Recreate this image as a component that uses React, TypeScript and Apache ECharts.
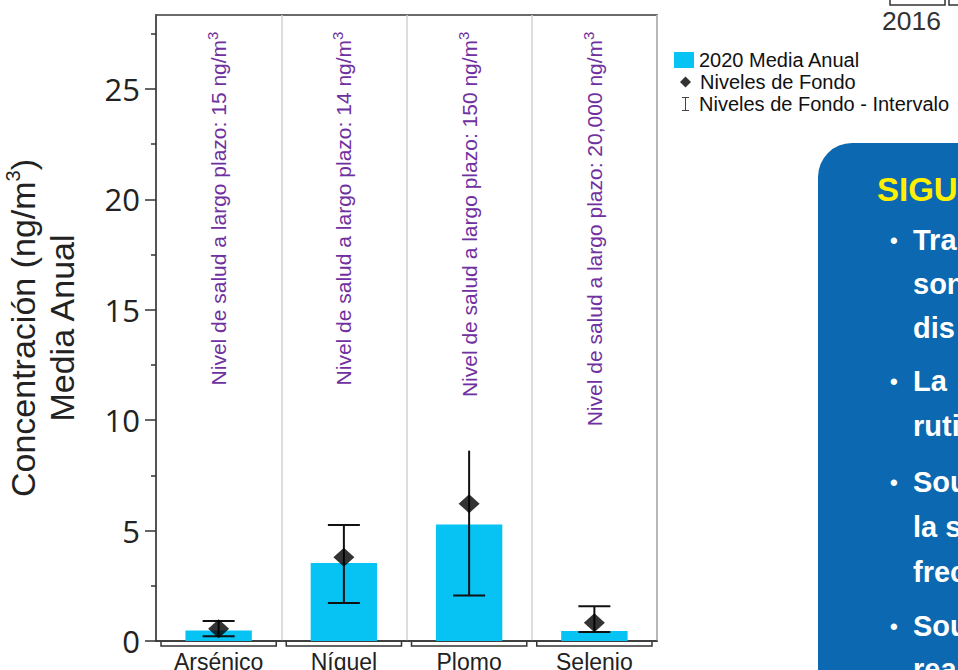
import React, { useEffect, useRef } from 'react';
import * as echarts from 'echarts';

const categories = ['Arsénico', 'Níquel', 'Plomo', 'Selenio'];
const media2020 = [0.48, 3.53, 5.28, 0.45];
const fondo = [0.56, 3.79, 6.22, 0.83];
const fondoLow = [0.21, 1.72, 2.06, 0.41];
const fondoHigh = [0.91, 5.25, 8.62, 1.57];
const fondoHighCap = [1, 1, 0, 1];
const healthLevels = ['15', '14', '150', '20,000'];
const yTicks = [0, 5, 10, 15, 20, 25];
const yMinorTicks = [2.5, 7.5, 12.5, 17.5, 22.5, 27.5];
const yMax = 28.35;
const healthLabelAnchor = 27.6;
const legendNames = ['2020 Media Anual', 'Niveles de Fondo', 'Niveles de Fondo - Intervalo'];
const panelTitle = 'SIGU';
const panelLines = [
  { bullet: true, text: 'Tra' },
  { bullet: false, text: 'son' },
  { bullet: false, text: 'dis' },
  { bullet: true, text: 'La' },
  { bullet: false, text: 'ruti' },
  { bullet: true, text: 'Sou' },
  { bullet: false, text: 'la s' },
  { bullet: false, text: 'frec' },
  { bullet: true, text: 'Sou' },
  { bullet: false, text: 'rea' },
];
const panelLineY = [240, 284, 328, 381, 426, 482, 527, 572, 626, 669];
const topYear = '2016';

const SANS = 'Liberation Sans, Arial, Helvetica, sans-serif';

export default function App() {
  const ref = useRef<HTMLDivElement>(null);
  useEffect(() => {
    if (!ref.current) return;
    const chart = echarts.init(ref.current, undefined, { renderer: 'svg' });

    const panelGraphics: any[] = [
      {
        type: 'rect',
        shape: { x: 818, y: 143, width: 220, height: 600, r: 34 },
        style: { fill: '#0B68B1' },
        z: 1,
      },
      {
        type: 'text',
        x: 877,
        y: 189,
        style: { text: panelTitle, fill: '#FFEF00', font: `bold 33px ${SANS}`, verticalAlign: 'middle', align: 'left' },
        z: 2,
      },
    ];
    panelLines.forEach((l, i) => {
      if (l.bullet) {
        panelGraphics.push({
          type: 'text',
          x: 890,
          y: panelLineY[i],
          style: { text: '•', fill: '#fff', font: `bold 22px ${SANS}`, verticalAlign: 'middle' },
          z: 2,
        });
      }
      panelGraphics.push({
        type: 'text',
        x: 913,
        y: panelLineY[i],
        style: { text: l.text, fill: '#fff', font: `bold 29px ${SANS}`, verticalAlign: 'middle' },
        z: 2,
      });
    });

    const legendText = { fontSize: 20, fontFamily: SANS, color: '#111', lineHeight: 20 };

    const option: any = {
      animation: false,
      backgroundColor: '#fff',
      grid: {
        left: 156,
        top: 15,
        width: 501,
        height: 626,
        show: true,
        borderColor: '#3a3a3a',
        borderWidth: 1.5,
        backgroundColor: 'transparent',
        containLabel: false,
        outerBoundsMode: 'none',
      },
      legend: [
        {
          data: [{ name: legendNames[0], icon: 'rect', itemStyle: { color: '#06C3F4' } }],
          left: 674,
          top: 50,
          padding: 0,
          itemWidth: 20,
          itemHeight: 16,
          textStyle: legendText,
          selectedMode: false,
        },
        {
          data: [{ name: legendNames[1], icon: 'diamond', itemStyle: { color: '#000' } }],
          left: 680,
          top: 72,
          padding: 0,
          itemWidth: 11,
          itemHeight: 11,
          textStyle: { ...legendText, padding: [0, 0, 0, 4] },
          selectedMode: false,
        },
        {
          data: [
            {
              name: legendNames[2],
              icon: 'path://M0,0H7V1H4V13H7V14H0V13H3V1H0Z',
              itemStyle: { color: '#444' },
            },
          ],
          left: 682,
          top: 94,
          padding: 0,
          itemWidth: 7,
          itemHeight: 14,
          textStyle: { ...legendText, padding: [0, 0, 0, 5] },
          selectedMode: false,
        },
      ],
      xAxis: {
        type: 'category',
        data: categories,
        axisLine: { show: true, lineStyle: { color: '#333', width: 1.5 } },
        axisTick: { show: false },
        axisLabel: { color: '#222', fontSize: 23, fontFamily: SANS, margin: 9 },
        splitLine: { show: true, lineStyle: { color: '#d2d2d2', width: 1.5 } },
      },
      yAxis: [
        {
          type: 'value',
          min: 0,
          max: yMax,
          position: 'left',
          name: 'Concentración (ng/m{sup|3})\nMedia Anual',
          nameLocation: 'middle',
          nameRotate: 90,
          nameGap: 75,
          nameTextStyle: {
            fontSize: 34,
            fontFamily: SANS,
            color: '#222',
            lineHeight: 39,
            rich: {
              sup: { fontSize: 20, lineHeight: 20, verticalAlign: 'top', fontFamily: SANS, color: '#222' },
            },
          },
          axisLine: { show: true, lineStyle: { color: '#333', width: 1.5 } },
          axisTick: { show: true, length: 11, customValues: yTicks, lineStyle: { color: '#333', width: 1.5 } },
          axisLabel: { show: true, customValues: yTicks, fontSize: 31, fontFamily: 'Open Sans', color: '#222', margin: 16 },
          splitLine: { show: false },
        },
        {
          type: 'value',
          min: 0,
          max: yMax,
          position: 'left',
          axisLine: { show: false },
          axisTick: { show: true, length: 5, customValues: yMinorTicks, lineStyle: { color: '#333', width: 1.5 } },
          axisLabel: { show: false },
          splitLine: { show: false },
        },
      ],
      graphic: [
        ...panelGraphics,
        {
          type: 'polyline',
          shape: { points: [[890, 0], [890, 5], [945, 5], [945, 0]] },
          style: { stroke: '#333', lineWidth: 1.5, fill: 'none' },
        },
        {
          type: 'polyline',
          shape: { points: [[949, 0], [949, 5], [962, 5]] },
          style: { stroke: '#333', lineWidth: 1.5, fill: 'none' },
        },
        {
          type: 'text',
          x: 882,
          y: 21,
          style: { text: topYear, fill: '#333', font: `26.5px ${SANS}`, verticalAlign: 'middle' },
        },
      ],
      series: [
        {
          name: legendNames[0],
          type: 'bar',
          data: media2020,
          barWidth: '53%',
          itemStyle: { color: '#06C3F4' },
          z: 2,
        },
        {
          name: legendNames[2],
          type: 'custom',
          z: 3,
          clip: false,
          itemStyle: { color: '#444' },
          data: categories.map((c, i) => [i, fondoLow[i], fondoHigh[i], fondoHighCap[i]]),
          encode: { x: 0, y: [1, 2] },
          renderItem: (params: any, api: any) => {
            const i = api.value(0);
            const lo = api.coord([i, api.value(1)]);
            const hi = api.coord([i, api.value(2)]);
            const half = 16;
            const st = { stroke: '#111', lineWidth: 2 };
            const children: any[] = [
              { type: 'line', shape: { x1: lo[0], y1: lo[1], x2: hi[0], y2: hi[1] }, style: st },
              { type: 'line', shape: { x1: lo[0] - half, y1: lo[1], x2: lo[0] + half, y2: lo[1] }, style: st },
            ];
            if (api.value(3)) {
              children.push({ type: 'line', shape: { x1: hi[0] - half, y1: hi[1], x2: hi[0] + half, y2: hi[1] }, style: st });
            }
            return { type: 'group', children };
          },
        },
        {
          name: legendNames[1],
          type: 'scatter',
          data: fondo,
          symbol: 'diamond',
          symbolSize: [21, 19],
          itemStyle: { color: '#000' },
          z: 4,
        },
        {
          name: 'brackets',
          type: 'custom',
          silent: true,
          clip: false,
          data: categories.map((c, i) => [i, 0]),
          renderItem: (params: any, api: any) => {
            const i = api.value(0);
            const p = api.coord([i, 0]);
            const w = api.size([1, 0])[0];
            const x0 = p[0] - w / 2 + 5;
            const x1 = p[0] + w / 2 - 5;
            return {
              type: 'polyline',
              shape: { points: [[x0, p[1] + 1], [x0, p[1] + 5], [x1, p[1] + 5], [x1, p[1] + 1]] },
              style: { stroke: '#333', lineWidth: 1.5, fill: 'none' },
            };
          },
        },
        {
          name: 'health',
          type: 'custom',
          silent: true,
          clip: false,
          z: 5,
          data: categories.map((c, i) => [i, healthLabelAnchor]),
          renderItem: (params: any, api: any) => {
            const i = api.value(0);
            const p = api.coord([i, api.value(1)]);
            return {
              type: 'text',
              x: p[0],
              y: p[1],
              rotation: Math.PI / 2,
              style: {
                text: `Nivel de salud a largo plazo: ${healthLevels[i]} ng/m{sup|3}`,
                fill: '#7030A0',
                font: `21px ${SANS}`,
                fontSize: 21,
                fontFamily: SANS,
                lineHeight: 27,
                align: 'right',
                verticalAlign: 'middle',
                rich: {
                  sup: { fontSize: 15, lineHeight: 15, verticalAlign: 'top', fontFamily: SANS, fill: '#7030A0' },
                },
              },
            };
          },
        },
      ],
    };
    chart.setOption(option);
    return () => chart.dispose();
  }, []);
  return <div ref={ref} style={{ position: 'absolute', left: 0, top: 0, width: 958, height: 670 }} />;
}
